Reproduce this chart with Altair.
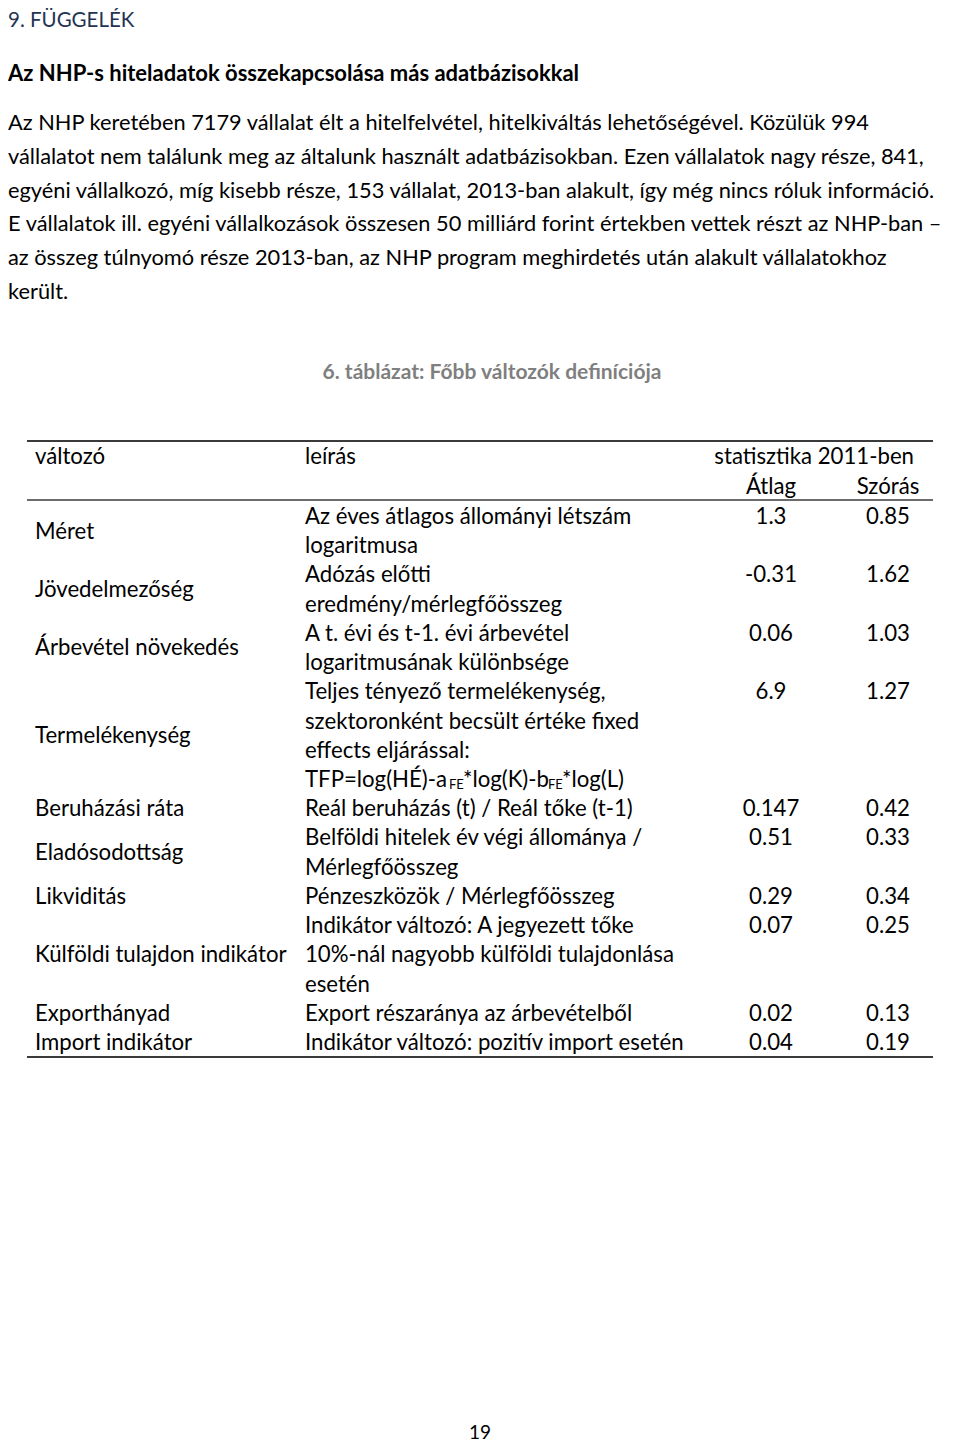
import altair as alt
import pandas as pd

# ---------------- content ----------------
heading = "9. FÜGGELÉK"
subheading = "Az NHP-s hiteladatok összekapcsolása más adatbázisokkal"
paragraph = [
    "Az NHP keretében 7179 vállalat élt a hitelfelvétel, hitelkiváltás lehetőségével. Közülük 994",
    "vállalatot nem találunk meg az általunk használt adatbázisokban. Ezen vállalatok nagy része, 841,",
    "egyéni vállalkozó, míg kisebb része, 153 vállalat, 2013-ban alakult, így még nincs róluk információ.",
    "E vállalatok ill. egyéni vállalkozások összesen 50 milliárd forint értekben vettek részt az NHP-ban –",
    "az összeg túlnyomó része 2013-ban, az NHP program meghirdetés után alakult vállalatokhoz",
    "került.",
]
caption = "6. táblázat: Főbb változók definíciója"
header_left = ["változó", "leírás"]
header_stat = "statisztika 2011-ben"
header_cols = ["Átlag", "Szórás"]

variables = ["Méret", "Jövedelmezőség", "Árbevétel növekedés", "Termelékenység",
             "Beruházási ráta", "Eladósodottság", "Likviditás",
             "Külföldi tulajdon indikátor", "Exporthányad", "Import indikátor"]
descriptions = [
    ["Az éves átlagos állományi létszám", "logaritmusa"],
    ["Adózás előtti", "eredmény/mérlegfőösszeg"],
    ["A t. évi és t-1. évi árbevétel", "logaritmusának különbsége"],
    ["Teljes tényező termelékenység,", "szektoronként becsült értéke fixed",
     "effects eljárással:", None],
    ["Reál beruházás (t) / Reál tőke (t-1)"],
    ["Belföldi hitelek év végi állománya /", "Mérlegfőösszeg"],
    ["Pénzeszközök / Mérlegfőösszeg"],
    ["Indikátor változó: A jegyezett tőke", "10%-nál nagyobb külföldi tulajdonlása", "esetén"],
    ["Export részaránya az árbevételből"],
    ["Indikátor változó: pozitív import esetén"],
]
atlag = [1.3, -0.31, 0.06, 6.9, 0.147, 0.51, 0.29, 0.07, 0.02, 0.04]
szoras = [0.85, 1.62, 1.03, 1.27, 0.42, 0.33, 0.34, 0.25, 0.13, 0.19]
tfp_text = ["TFP=log(HÉ)-a", "FE", "*log(K)-b", "FE", "*log(L)"]
tfp_sub = [False, True, False, True, False]
page_number = "19"

# ---------------- layout ----------------
FONT = "Lato"
FS = 22.2
PARA_FS = 21.8
LEFT = 8
PARA_Y0, PARA_DY = 123, 33.8
ROW_Y0, ROW_DY = 517, 29.22
COL_VAR, COL_DESC, COL_AVG, COL_SD, COL_STAT_R = 35, 305, 771, 888, 914
TFP_X = [305, 449, 463, 548, 562]

xs = alt.Scale(domain=[8, 952], range=[0, 944])
ys = alt.Scale(domain=[8, 1443], range=[0, 1435])
X = alt.X("x:Q", scale=xs, axis=None)
Y = alt.Y("y:Q", scale=ys, axis=None)


def tl(rows, size=FS, weight="normal", color="black", align="left", dy=0,
       baseline="middle"):
    df = pd.DataFrame(rows, columns=["x", "y", "text"])
    return alt.Chart(df).mark_text(font=FONT, fontSize=size, fontWeight=weight,
                                   color=color, align=align, baseline=baseline,
                                   dy=dy).encode(x=X, y=Y, text="text:N")


layers = []
layers.append(tl([(LEFT, 27, heading)], size=20.5, color="#243352", baseline="alphabetic"))
layers.append(tl([(LEFT, 74, subheading)], size=22, weight="bold"))
layers.append(tl([(LEFT, PARA_Y0 + i * PARA_DY, t) for i, t in enumerate(paragraph)],
                 size=PARA_FS))
layers.append(tl([(492, 373, caption)], size=21, weight="bold", color="#7f7f7f", align="center"))

layers.append(tl([(COL_VAR, 457, header_left[0]), (COL_DESC, 457, header_left[1])]))
layers.append(tl([(COL_STAT_R, 457, header_stat)], align="right"))
layers.append(tl([(COL_AVG, 487, header_cols[0]), (COL_SD, 487, header_cols[1])], align="center"))

var_rows, desc_rows, val_rows, tfp_rows_n, tfp_rows_s = [], [], [], [], []
line = 0
for v, d, a, s in zip(variables, descriptions, atlag, szoras):
    n = len(d)
    y_first = ROW_Y0 + line * ROW_DY
    var_rows.append((COL_VAR, y_first + (n - 1) * ROW_DY / 2, v))
    val_rows.append((COL_AVG, y_first, str(a)))
    val_rows.append((COL_SD, y_first, str(s)))
    for k, t in enumerate(d):
        yk = ROW_Y0 + (line + k) * ROW_DY
        if t is None:
            for px, pt, sub in zip(TFP_X, tfp_text, tfp_sub):
                (tfp_rows_s if sub else tfp_rows_n).append((px, yk, pt))
        else:
            desc_rows.append((COL_DESC, yk, t))
    line += n

layers.append(tl(var_rows))
layers.append(tl(desc_rows))
layers.append(tl(val_rows, align="center"))
layers.append(tl(tfp_rows_n))
layers.append(tl(tfp_rows_s, size=13, dy=5))

rules = pd.DataFrame({"x": [27, 27, 27], "x2": [933, 933, 933],
                      "y": [441, 500, 1057], "w": [2, 1.5, 2]})
layers.append(alt.Chart(rules).mark_rule(color="#3a3a3a").encode(
    x=X, x2="x2:Q", y=Y, strokeWidth=alt.StrokeWidth("w:Q", scale=None, legend=None)))

layers.append(tl([(480, 1439, page_number)], size=19, align="center", baseline="alphabetic"))

chart = alt.layer(*layers).properties(
    width=944, height=1435, padding=0, autosize=alt.AutoSizeParams(type="none"),
    background="white"
).configure_view(stroke=None)

chart.save("out.html", embed_options={"renderer": "svg", "actions": False})
